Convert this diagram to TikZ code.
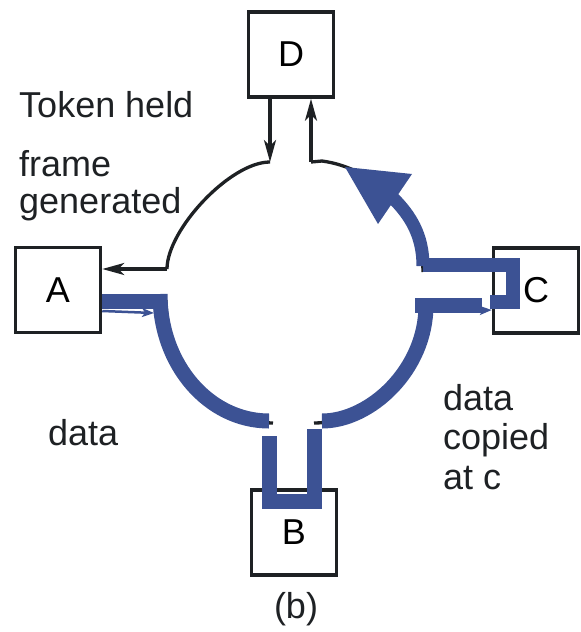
\documentclass[tikz,border=0pt]{standalone}
\usepackage{fontspec}
\setmainfont{Liberation Sans}
\usetikzlibrary{arrows.meta}
\definecolor{ringblue}{RGB}{60,82,148}
\definecolor{inkblack}{RGB}{30,33,36}
\begin{document}
\begin{tikzpicture}[x=1pt,y=-1pt,
  box/.style={draw=inkblack, line width=3.5pt, minimum width=85pt, minimum height=85pt, inner sep=0pt, font=\fontsize{36}{36}\selectfont},
  lbl/.style={font=\fontsize{36}{36}\selectfont, anchor=base west, inner sep=0pt, text=inkblack},
  ring/.style={line width=3.3pt, draw=inkblack},
  band/.style={line width=15pt, draw=ringblue},
  blk/.style={-{Stealth[length=22pt,width=12pt,inset=6pt]}},
  thinblue/.style={line width=2.5pt, draw=ringblue, -{Stealth[length=12pt,width=9pt,inset=3pt]}},
]
\useasboundingbox (0,0) rectangle (581,632);

% boxes
\node[box] (D) at (291,54.5) {D};
\node[box] (A) at (58,290) {A};
\node[box] (C) at (536,290.5) {C};
\node[box] (B) at (294,532.5) {B};

% texts
\node[lbl] (t1) at (19,117) {Token held};
\node[lbl] (t2) at (19,176) {frame};
\node[lbl] (t3) at (19,213) {generated};
\node[lbl] (t4) at (48,445) {data};
\node[lbl] (t5) at (443,410) {data};
\node[lbl] (t6) at (443,449) {copied};
\node[lbl] (t7) at (443,489) {at c};
\node[lbl, anchor=base] (t8) at (296,618) {(b)};

% key ring points
\coordinate (TL) at (270,162);
\coordinate (TR) at (311,162);
\coordinate (L) at (167,269);
\coordinate (Abar) at (0,301);
\coordinate (Athin) at (0,311);
\coordinate (Cthin) at (0,310);

% black ring
\draw[ring] (TL) .. controls (230,162) and (167,230) .. (L);
\draw[ring, blk] (L) -- (A.east |- L);
\draw[ring, blk] (D.south -| TL) -- (TL);
\draw[ring, blk] (TR) -- (D.south -| TR);
\draw[ring] (TR) -- (322,161) .. controls (375,168) and (423,215) .. (423,272);
\draw[ring] (166,300) .. controls (166,362) and (215,423) .. (273,423);
\draw[ring] (314,423) .. controls (370,423) and (420,370) .. (422,305);

% blue data path
\draw[thinblue] (A.east |- Athin) -- (154,313);
\draw[band] (A.east |- Abar) -- (160,301);
\draw[band] (160,294) .. controls (160,365) and (209,421) .. (269,421);
\draw[band] (269,436) -- (269,501) -- (314,501) -- (314,429);
\draw[band] (322,421) .. controls (370,421) and (426,370) .. (426,305);
\draw[band] (415,305) -- (482,305);
\draw[thinblue] (466,311) -- (C.west |- Cthin);
\draw[band, line width=14pt] (423,265) -- (513,265) -- (513,302) -- (490,302);
\draw[band, line width=13pt] (423,266) .. controls (423,235) and (410,215) .. (393,198);
\fill[ringblue] (345,167) -- (412,174) -- (378,224) -- cycle;
\end{tikzpicture}
\end{document}
